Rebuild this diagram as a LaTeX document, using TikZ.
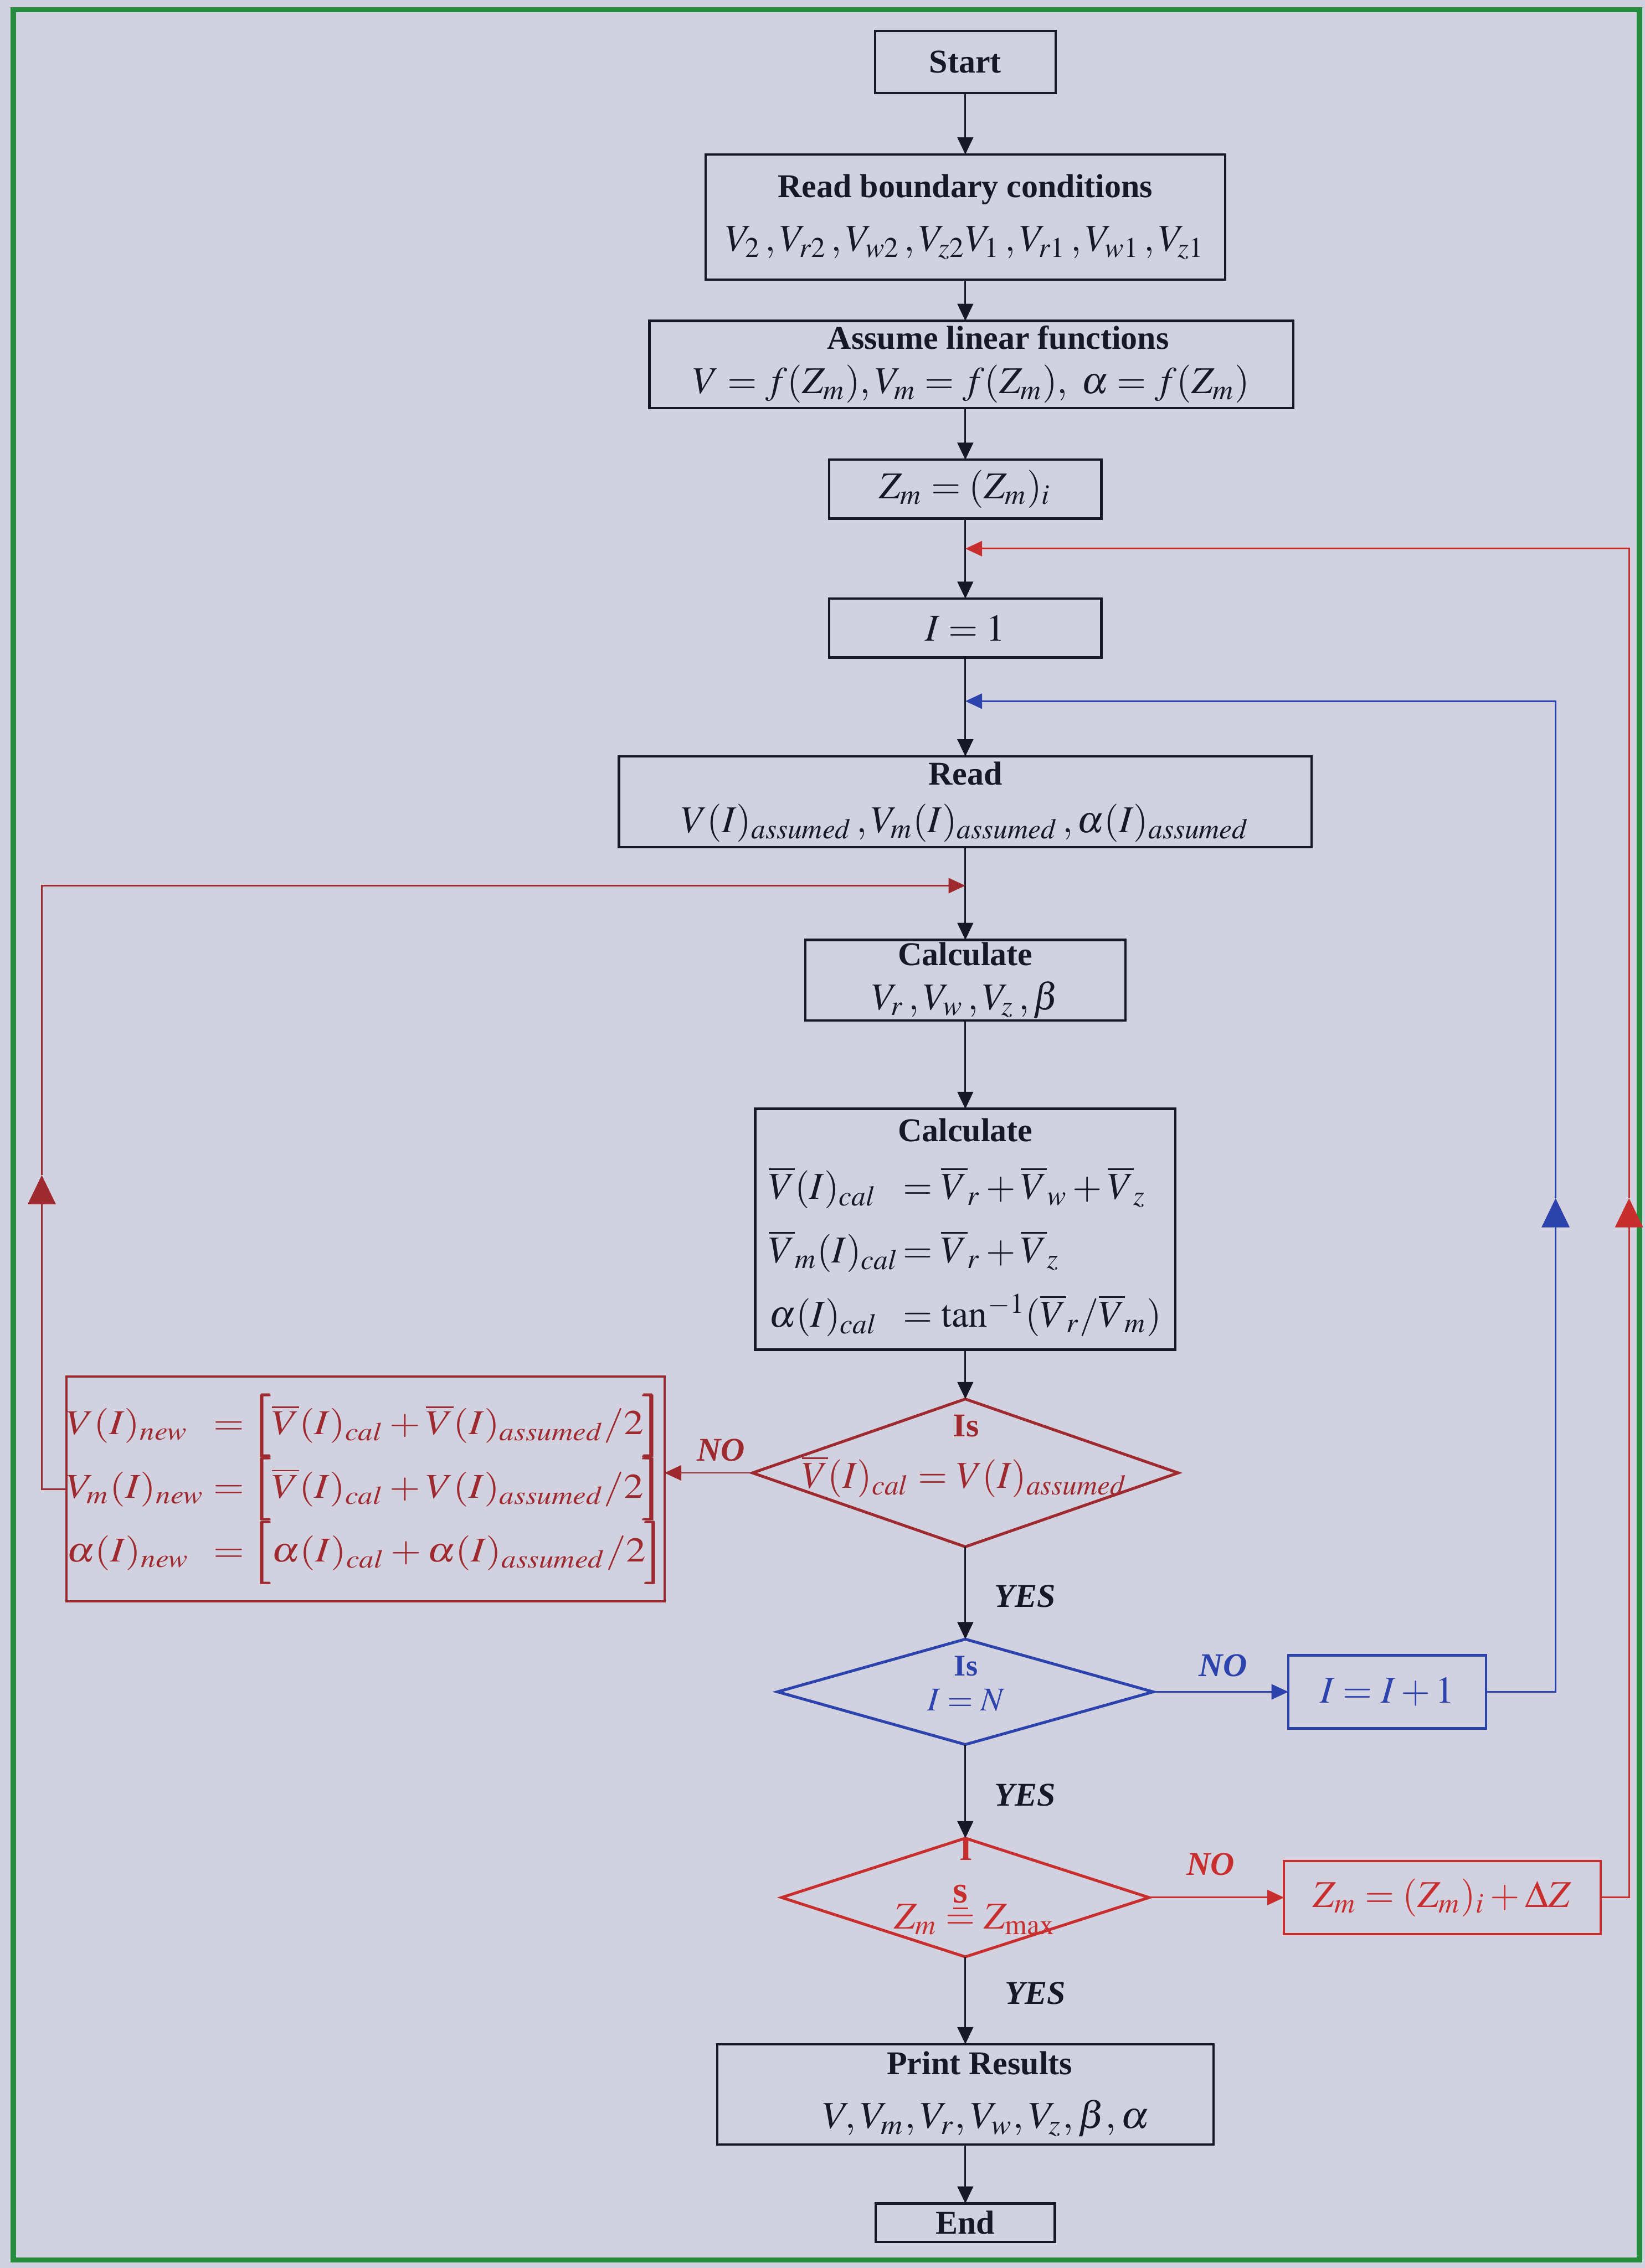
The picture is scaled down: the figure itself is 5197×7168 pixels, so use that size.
\documentclass[tikz,border=0pt]{standalone}
\usepackage{amsmath}
\usepackage{graphicx}
\usepackage{mathptmx}
\usepackage{fontspec}
\setmainfont{Liberation Serif}
\usetikzlibrary{arrows.meta,shapes.geometric}
\definecolor{bgc}{RGB}{210,209,223}
\definecolor{grn}{RGB}{38,140,62}
\definecolor{ink}{RGB}{22,24,38}
\definecolor{dred}{RGB}{158,42,48}
\definecolor{lred}{RGB}{200,46,46}
\definecolor{blu}{RGB}{44,66,172}
\newcommand{\ttl}[1]{{\fontsize{10.5}{12}\selectfont\bfseries #1}}
\newcommand{\lbk}{\pmb{\Bigl[}}
\newcommand{\rbk}{\pmb{\Bigr]}}
\begin{document}
\begin{tikzpicture}[x=0.1pt,y=-0.1pt,
  every node/.style={inner sep=0pt, outer sep=0pt},
  box/.style={draw=#1, line width=0.75pt, align=center, text=#1, font=\fontsize{12}{14}\selectfont},
  box/.default=ink,
  dia/.style={draw=#1, diamond, line width=0.9pt},
  txt/.style={text=#1, align=center, font=\fontsize{12}{14}\selectfont},
  lbl/.style={text=#1, font=\fontsize{10.5}{12}\selectfont\bfseries\itshape},
  flow/.style={draw=ink, line width=0.5pt, -{Triangle[width=5pt,length=5.4pt]}},
  cflow/.style={draw=#1, line width=0.5pt, -{Triangle[width=4.8pt,length=5.3pt]}},
  bigup/.style={draw=#1, line width=0.5pt, -{Triangle[width=8.8pt,length=9.2pt]}},
]
\fill[bgc] (0,0) rectangle (5197,7168);
\useasboundingbox (0,0) rectangle (5197,7168);
\draw[grn, line width=1.6pt] (42,30) rectangle (5180,7142);

% main column
\node[box, minimum width=57.1pt, minimum height=19.5pt] (start) at (3050,196) {\ttl{Start}};
\node[box, minimum width=164.2pt, minimum height=39.6pt] (rbc) at (3050,686)
  {\ttl{Read boundary conditions}\\[3pt] $V_2\,,V_{r2}\,,V_{w2}\,,V_{z2}V_1\,,V_{r1}\,,V_{w1}\,,V_{z1}$};
\node[box, minimum width=203.4pt, minimum height=27.6pt] (assume) at (3069,1152)
  {\hspace*{17pt}\ttl{Assume linear functions}\\[0pt] $V=f(Z_m), V_m=f(Z_m),\ \alpha=f(Z_m)$};
\node[box, minimum width=86pt, minimum height=18.6pt] (zm) at (3050,1546) {$Z_m=(Z_m)_i$};
\node[box, minimum width=86pt, minimum height=18.6pt] (i1) at (3050,1985) {$I=1$};
\node[box, minimum width=218.9pt, minimum height=28.7pt] (read) at (3050,2534)
  {\ttl{Read}\\[1pt] $V(I)_{assumed}\,, V_m(I)_{assumed}\,, \alpha(I)_{assumed}$};
\node[box, minimum width=101.2pt, minimum height=25.5pt] (c1) at (3050,3098)
  {\ttl{Calculate}\\[0pt] $V_r\,,V_w\,,V_z\,,\beta$};
\node[box, minimum width=132.8pt, minimum height=76.1pt] (c2) at (3050,3885)
  {\ttl{Calculate}\\[7pt]
   $\begin{array}{@{}l@{\,}l@{}}
     \overline{V}(I)_{cal} & =\overline{V}_r+\overline{V}_w+\overline{V}_z\\[5.7pt]
     \overline{V}_m(I)_{cal} & =\overline{V}_r+\overline{V}_z\\[5.7pt]
     \alpha(I)_{cal} & =\tan^{-1}(\overline{V}_r/\overline{V}_m)
   \end{array}$};

% decision 1
\node[dia=dred, minimum width=134.5pt, minimum height=46.7pt] (d1) at (3050,4655) {};
\node[txt=dred] (d1is) at (3052,4507) {\ttl{Is}};
\node[txt=dred] (d1f) at (3048,4667) {$\overline{V}(I)_{cal}=V(I)_{assumed}$};
\node[box=dred, minimum width=188.3pt, minimum height=71.1pt, font=\fontsize{11}{13}\selectfont] (lbox) at (1155,4706)
  {\scalebox{1.14}[1]{$\begin{array}{@{}l@{\;}l@{}}
     V(I)_{new}\; & ={}\lbk\overline{V}(I)_{cal}+\overline{V}(I)_{assumed}/2\rbk\\[0pt]
     V_m(I)_{new} & ={}\lbk\overline{V}(I)_{cal}+V(I)_{assumed}/2\rbk\\[0pt]
     \alpha(I)_{new} & ={}\lbk\alpha(I)_{cal}+\alpha(I)_{assumed}/2\rbk
   \end{array}$}};

% decision 2
\node[dia=blu, minimum width=118.7pt, minimum height=33.3pt] (d2) at (3050,5347) {};
\node[txt=blu] (d2is) at (3052,5266) {{\fontsize{9.5}{11}\selectfont\bfseries Is}};
\node[txt=blu, font=\fontsize{10.5}{12}\selectfont] (d2f) at (3052,5374) {$I=N$};
\node[box=blu, minimum width=62.5pt, minimum height=23.1pt] (inc) at (4383,5347) {$I=I+1$};

% decision 3
\node[dia=lred, minimum width=116.1pt, minimum height=37.5pt] (d3) at (3050,5997) {};
\node[txt=lred] (d3i) at (3052,5845) {\ttl{I}};
\node[txt=lred] (d3f) at (3080,6030) {$Z_m \overset{\raisebox{1pt}{\textbf{\underline{s}}}}{=} Z_{\max}$};
\node[box=lred, minimum width=100pt, minimum height=23.1pt] (zmd) at (4557,5997) {$Z_m=(Z_m)_i+\Delta Z$};

\node[box, minimum width=156.8pt, minimum height=31.7pt] (print) at (3050,6619)
  {\hspace*{9pt}\ttl{Print Results}\\[3pt] \hspace*{13pt}\scalebox{1.06}[1]{$V,V_m,V_r,V_w,V_z,\beta,\alpha$}};
\node[box, minimum width=56.6pt, minimum height=12.2pt] (end) at (3050,7025) {\ttl{End}};

% labels
\node[lbl=dred] (no1) at (2278,4583) {NO};
\node[lbl=ink] (yes1) at (3239,5045) {YES};
\node[lbl=blu] (no2) at (3864,5264) {NO};
\node[lbl=ink] (yes2) at (3239,5673) {YES};
\node[lbl=lred] (no3) at (3825,5892) {NO};
\node[lbl=ink] (yes3) at (3271,6299) {YES};

% junction points
\coordinate (jr) at (3050,1734);
\coordinate (jb) at (3050,2216);
\coordinate (jl) at (3050,2799);
\coordinate (ar) at (5147,3787);
\coordinate (ab) at (4915,3787);
\coordinate (al) at (132,3714);

% main flow
\draw[flow] (start) -- (rbc);
\draw[flow] (rbc.south) -- (rbc.south |- assume.north);
\draw[flow] (zm.north |- assume.south) -- (zm.north);
\draw[flow] (zm) -- (i1);
\draw[flow] (i1) -- (read);
\draw[flow] (read) -- (c1);
\draw[flow] (c1) -- (c2);
\draw[flow] (c2.south) -- (d1.north);
\draw[flow] (d1.south) -- (d2.north);
\draw[flow] (d2.south) -- (d3.north);
\draw[flow] (d3.south) -- (print.north);
\draw[flow] (print) -- (end);

% branches
\draw[cflow=dred] (d1.west) -- (lbox.east |- d1.west);
\draw[cflow=blu] (d2.east) -- (inc.west);
\draw[cflow=lred] (d3.east) -- (zmd.west);

% loops
\draw[bigup=dred] (lbox.west) -| (al);
\draw[cflow=dred] (al) |- (jl);
\draw[bigup=blu] (inc.east) -| (ab);
\draw[cflow=blu] (ab) |- (jb);
\draw[bigup=lred] (zmd.east) -| (ar);
\draw[cflow=lred] (ar) |- (jr);
\end{tikzpicture}
\end{document}
